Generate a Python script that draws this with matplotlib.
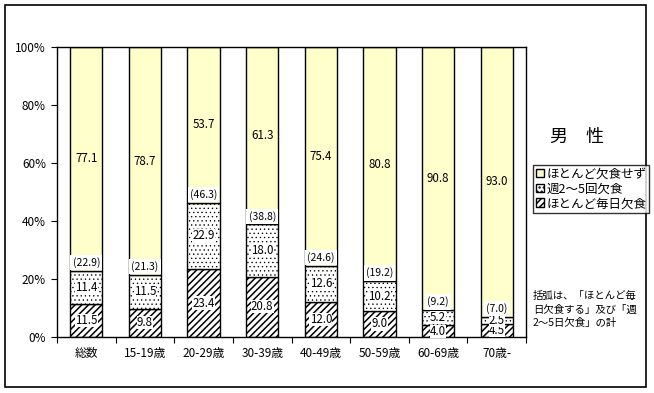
import matplotlib
matplotlib.use("Agg")
import matplotlib.pyplot as plt
import numpy as np
from matplotlib.patches import Patch, Rectangle

plt.rcParams['font.family'] = ['Noto Sans CJK JP', 'DejaVu Sans']
plt.rcParams['hatch.linewidth'] = 1.1

categories = ["総数", "15-19歳", "20-29歳", "30-39歳", "40-49歳", "50-59歳", "60-69歳", "70歳-"]
daily = [11.5, 9.8, 23.4, 20.8, 12.0, 9.0, 4.0, 4.5]
weekly = [11.4, 11.5, 22.9, 18.0, 12.6, 10.2, 5.2, 2.5]
never = [77.1, 78.7, 53.7, 61.3, 75.4, 80.8, 90.8, 93.0]
totals = ["22.9", "21.3", "46.3", "38.8", "24.6", "19.2", "9.2", "7.0"]
series_names = ["ほとんど欠食せず", "週2～5回欠食", "ほとんど毎日欠食"]


def thin_dots(patch):
    try:
        patch.set_hatch_linewidth(0.45)
    except AttributeError:
        pass


W, H = 654, 393
fig = plt.figure(figsize=(W / 100, H / 100), dpi=100)
fig.patches.append(Rectangle((5 / W, 6 / H), 641 / W, 382 / H, transform=fig.transFigure,
                             fill=False, edgecolor="black", linewidth=1.2))

ax = fig.add_axes([57 / W, (H - 337) / H, 469 / W, 290 / H])
x = np.arange(len(categories))
bw = 0.55
daily = np.array(daily)
weekly = np.array(weekly)
never = np.array(never)

ax.bar(x, daily, bw, color="white", edgecolor="black", hatch="/////", linewidth=1)
b2 = ax.bar(x, weekly, bw, bottom=daily, color="white", edgecolor="black", hatch="....", linewidth=1)
for p in b2:
    thin_dots(p)
ax.bar(x, never, bw, bottom=daily + weekly, color="#ffffcc", edgecolor="black", linewidth=1)

box = dict(facecolor="white", edgecolor="none", pad=0.1)
fs = 8.3
for i in range(len(categories)):
    ax.text(x[i], daily[i] / 2, f"{daily[i]:.1f}", ha="center", va="center", fontsize=fs, bbox=box)
    ax.text(x[i], daily[i] + weekly[i] / 2, f"{weekly[i]:.1f}", ha="center", va="center", fontsize=fs, bbox=box)
    top = daily[i] + weekly[i]
    ax.text(x[i], top + (100 - top) / 2, f"{never[i]:.1f}", ha="center", va="center",
            fontsize=fs, bbox=dict(facecolor="#ffffcc", edgecolor="none", pad=0.3))
    ax.text(x[i], top + 1.0, f"({totals[i]})", ha="center", va="bottom", fontsize=7.5,
            bbox=dict(facecolor="white", edgecolor="none", pad=1.5))

ax.set_xlim(-0.5, len(categories) - 0.5)
ax.set_ylim(0, 100)
ax.set_yticks(np.arange(0, 101, 20))
ax.set_yticklabels([f"{v}%" for v in range(0, 101, 20)], fontsize=8.5)
ax.set_xticks(np.arange(len(categories) + 1) - 0.5)
ax.set_xticklabels([])
ax.set_xticks(x, minor=True)
ax.set_xticklabels(categories, minor=True, fontsize=8.5)
ax.tick_params(axis="x", which="major", length=4, direction="out")
ax.tick_params(axis="x", which="minor", length=0, pad=7)
ax.tick_params(axis="y", length=4, direction="out", pad=4)
for s in ax.spines.values():
    s.set_linewidth(1)

fig.text(577 / W, 1 - 137 / H, "男　性", ha="center", va="center", fontsize=13)

handles = [Patch(facecolor="#ffffcc", edgecolor="black"),
           Patch(facecolor="white", edgecolor="black", hatch="...."),
           Patch(facecolor="white", edgecolor="black", hatch="/////")]
thin_dots(handles[1])
leg = fig.legend(handles, series_names, loc="upper left", bbox_to_anchor=(533 / W, 1 - 165 / H),
                 fontsize=9, frameon=True, fancybox=False, handlelength=0.7, handleheight=0.7,
                 handletextpad=0.2, borderpad=0.2, labelspacing=0.15, borderaxespad=0)
leg.get_frame().set_edgecolor("black")
leg.get_frame().set_linewidth(1)

fig.text(533 / W, 1 - 291 / H, "括弧は、「ほとんど毎\n日欠食する」及び「週\n2～5日欠食」の計",
         ha="left", va="top", fontsize=7.5, linespacing=1.45)

fig.savefig("out.png", dpi=100)
